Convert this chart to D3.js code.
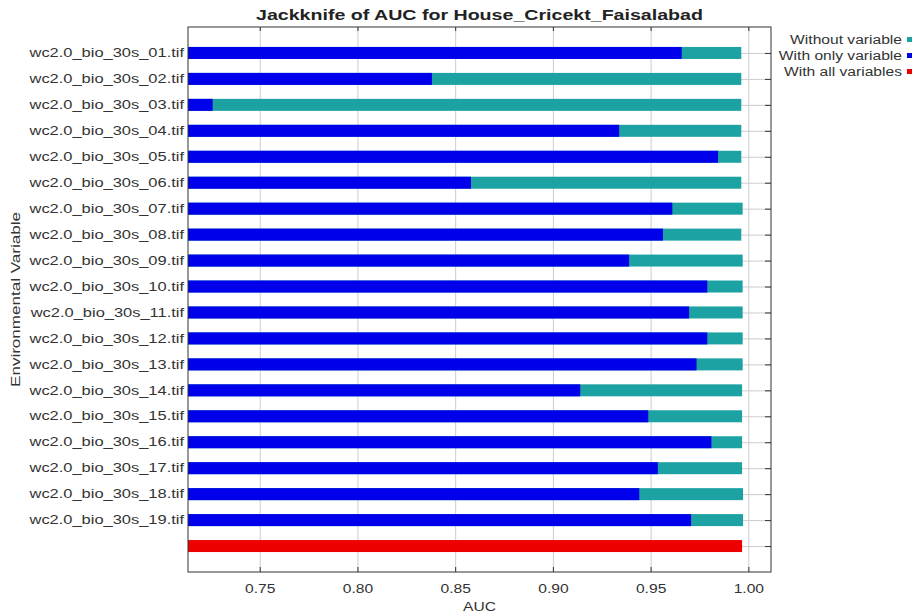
<!DOCTYPE html>
<html>
<head>
<meta charset="utf-8">
<script src="https://cdn.jsdelivr.net/npm/d3@7"></script>
<style>
  body { margin: 0; background: #fff; }
  text { font-family: "Liberation Sans", Arial, sans-serif; }
</style>
</head>
<body>
<svg id="chart" width="923" height="616"></svg>
<script>
// variable names (last row is the "all variables" bar, no label)
var variables = ["wc2.0_bio_30s_01.tif", "wc2.0_bio_30s_02.tif", "wc2.0_bio_30s_03.tif",
  "wc2.0_bio_30s_04.tif", "wc2.0_bio_30s_05.tif", "wc2.0_bio_30s_06.tif",
  "wc2.0_bio_30s_07.tif", "wc2.0_bio_30s_08.tif", "wc2.0_bio_30s_09.tif",
  "wc2.0_bio_30s_10.tif", "wc2.0_bio_30s_11.tif", "wc2.0_bio_30s_12.tif",
  "wc2.0_bio_30s_13.tif", "wc2.0_bio_30s_14.tif", "wc2.0_bio_30s_15.tif",
  "wc2.0_bio_30s_16.tif", "wc2.0_bio_30s_17.tif", "wc2.0_bio_30s_18.tif",
  "wc2.0_bio_30s_19.tif"];

// AUC without the variable
var withoutVariable = [0.9964, 0.9964, 0.9964, 0.9964, 0.9964, 0.9964, 0.9971, 0.9964,
  0.9971, 0.9971, 0.9971, 0.9971, 0.9971, 0.9968, 0.9968, 0.9968, 0.9968, 0.9973, 0.9973];

// AUC with only the variable
var withOnlyVariable = [0.9659, 0.8381, 0.7259, 0.9339, 0.9845, 0.8581, 0.9611, 0.9563,
  0.9390, 0.9790, 0.9697, 0.9790, 0.9735, 0.9140, 0.9488, 0.9811, 0.9537, 0.9442, 0.9707];

// AUC with all variables
var withAllVariables = 0.9968;

var xTicks = [0.75, 0.80, 0.85, 0.90, 0.95, 1.00];
var legendLabels = ["Without variable", "With only variable", "With all variables"];
var colors = ["#1ca2a2", "#0000ea", "#ee0000"];

var svg = d3.select("#chart");
// plot box (don't use "top" as a global name, it clashes with window.top)
var plotLeft = 188, plotRight = 771, plotTop = 27, plotBottom = 572;
var stretch = 1.3; // the reference text is drawn wide

// stretch a text element horizontally around its anchor
function widen(sel, factor) {
  sel.each(function () {
    var w = this.getComputedTextLength();
    if (w > 0) {
      d3.select(this)
        .attr("textLength", w * factor)
        .attr("lengthAdjust", "spacingAndGlyphs");
    }
  });
}

var x = d3.scaleLinear().domain([0.7133, 1.0116]).range([plotLeft, plotRight]);

var rows = variables.concat(["all"]);
var y = d3.scalePoint().domain(rows).range([plotTop, plotBottom]).padding(1);
var barH = 12;

// vertical grid lines
svg.append("g")
  .attr("transform", "translate(0," + plotBottom + ")")
  .call(d3.axisBottom(x).tickValues(xTicks).tickSize(-(plotBottom - plotTop)).tickFormat(""))
  .call(function (g) {
    g.select(".domain").remove();
    g.selectAll("line").attr("stroke", "#cccccc");
  });

// horizontal grid lines at each row
svg.append("g")
  .attr("transform", "translate(" + plotLeft + ",0)")
  .call(d3.axisLeft(y).tickSize(-(plotRight - plotLeft)).tickFormat(""))
  .call(function (g) {
    g.select(".domain").remove();
    g.selectAll("line").attr("stroke", "#cccccc");
  });

// without-variable bars (teal), drawn first
svg.append("g").selectAll("rect")
  .data(variables)
  .enter()
  .append("rect")
  .attr("x", plotLeft)
  .attr("y", function (d) { return y(d) - barH / 2; })
  .attr("width", function (d, i) { return x(withoutVariable[i]) - plotLeft; })
  .attr("height", barH)
  .attr("fill", colors[0]);

// with-only-variable bars (blue) on top
svg.append("g").selectAll("rect")
  .data(variables)
  .enter()
  .append("rect")
  .attr("x", plotLeft)
  .attr("y", function (d) { return y(d) - barH / 2; })
  .attr("width", function (d, i) { return x(withOnlyVariable[i]) - plotLeft; })
  .attr("height", barH)
  .attr("fill", colors[1]);

// all variables bar (red)
svg.append("rect")
  .attr("x", plotLeft)
  .attr("y", y("all") - barH / 2)
  .attr("width", x(withAllVariables) - plotLeft)
  .attr("height", barH)
  .attr("fill", colors[2]);

// frame
svg.append("rect")
  .attr("x", plotLeft)
  .attr("y", plotTop)
  .attr("width", plotRight - plotLeft)
  .attr("height", plotBottom - plotTop)
  .attr("fill", "none")
  .attr("stroke", "#333");

// bottom axis: inward ticks plus labels
var xAxis = svg.append("g")
  .attr("transform", "translate(0," + plotBottom + ")")
  .call(d3.axisBottom(x).tickValues(xTicks).tickSize(-5).tickPadding(12)
    .tickFormat(d3.format(".2f")));
xAxis.select(".domain").remove();
xAxis.selectAll("line").attr("stroke", "#333");
xAxis.selectAll("text")
  .attr("fill", "#333")
  .style("font-size", "12px")
  .call(widen, stretch);

// top axis: inward ticks only
svg.append("g")
  .attr("transform", "translate(0," + plotTop + ")")
  .call(d3.axisTop(x).tickValues(xTicks).tickSize(-4).tickFormat(""))
  .call(function (g) {
    g.select(".domain").remove();
    g.selectAll("line").attr("stroke", "#333");
  });

// right axis: inward ticks only
svg.append("g")
  .attr("transform", "translate(" + plotRight + ",0)")
  .call(d3.axisRight(y).tickSize(-6).tickFormat(""))
  .call(function (g) {
    g.select(".domain").remove();
    g.selectAll("line").attr("stroke", "#333");
  });

// variable labels on the left
svg.append("g").selectAll("text")
  .data(variables)
  .enter()
  .append("text")
  .attr("x", plotLeft - 4)
  .attr("y", function (d) { return y(d); })
  .attr("dy", "0.35em")
  .attr("text-anchor", "end")
  .attr("fill", "#333")
  .style("font-size", "12px")
  .text(function (d) { return d; })
  .call(widen, 1.37);

// title
svg.append("text")
  .attr("x", (plotLeft + plotRight) / 2)
  .attr("y", 20)
  .attr("text-anchor", "middle")
  .attr("fill", "#222")
  .style("font-size", "14px")
  .style("font-weight", "bold")
  .text("Jackknife of AUC for House_Cricekt_Faisalabad")
  .call(widen, 1.4);

// x axis title
svg.append("text")
  .attr("x", (plotLeft + plotRight) / 2)
  .attr("y", 611)
  .attr("text-anchor", "middle")
  .attr("fill", "#333")
  .style("font-size", "12px")
  .text("AUC")
  .call(widen, stretch);

// y axis title (long and narrow in the reference)
svg.append("text")
  .attr("transform", "translate(20," + ((plotTop + plotBottom) / 2) + ") rotate(-90)")
  .attr("text-anchor", "middle")
  .attr("fill", "#333")
  .style("font-size", "12px")
  .text("Environmental Variable")
  .call(widen, 1.42);

// legend at the top right
var legend = svg.append("g").selectAll("g")
  .data(legendLabels)
  .enter()
  .append("g")
  .attr("transform", function (d, i) { return "translate(0," + (40 + i * 16) + ")"; });

legend.append("rect")
  .attr("x", 907)
  .attr("y", -3)
  .attr("width", 5)
  .attr("height", 5)
  .attr("fill", function (d, i) { return colors[i]; });

legend.append("text")
  .attr("x", 902)
  .attr("dy", "0.35em")
  .attr("text-anchor", "end")
  .attr("fill", "#333")
  .style("font-size", "12px")
  .text(function (d) { return d; })
  .call(widen, stretch);
</script>
</body>
</html>
